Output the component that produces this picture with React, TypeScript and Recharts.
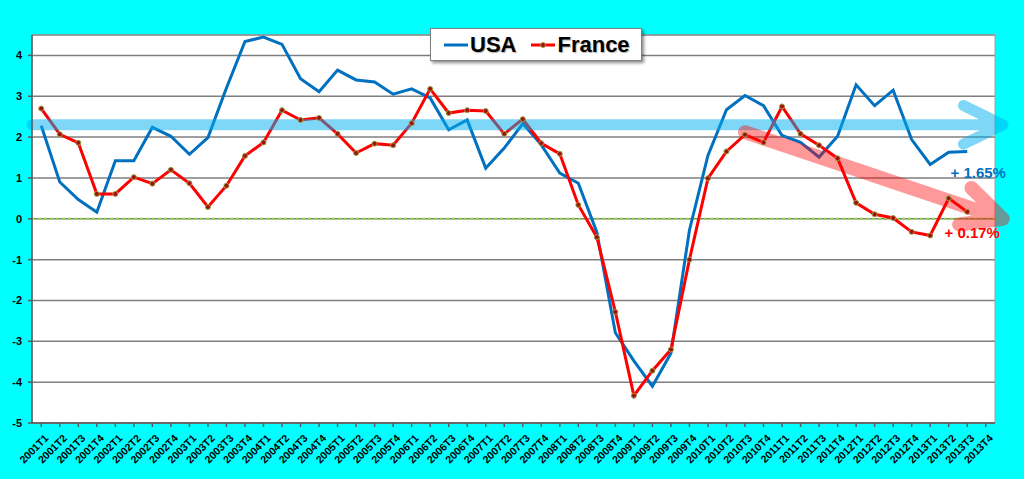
import React from "react";
import {
  LineChart,
  Line,
  XAxis,
  YAxis,
  CartesianGrid,
  ReferenceLine,
  ReferenceArea,
  ReferenceDot,
} from "recharts";

const quarters = [
  "2001T1", "2001T2", "2001T3", "2001T4",
  "2002T1", "2002T2", "2002T3", "2002T4",
  "2003T1", "2003T2", "2003T3", "2003T4",
  "2004T1", "2004T2", "2004T3", "2004T4",
  "2005T1", "2005T2", "2005T3", "2005T4",
  "2006T1", "2006T2", "2006T3", "2006T4",
  "2007T1", "2007T2", "2007T3", "2007T4",
  "2008T1", "2008T2", "2008T3", "2008T4",
  "2009T1", "2009T2", "2009T3", "2009T4",
  "2010T1", "2010T2", "2010T3", "2010T4",
  "2011T1", "2011T2", "2011T3", "2011T4",
  "2012T1", "2012T2", "2012T3", "2012T4",
  "2013T1", "2013T2", "2013T3", "2013T4",
];

const usa = [
  2.28, 0.9, 0.47, 0.16,
  1.42, 1.42, 2.24, 2.02,
  1.58, 1.99, 3.2, 4.34,
  4.45, 4.27, 3.43, 3.11,
  3.64, 3.4, 3.35, 3.05,
  3.18, 2.96, 2.18, 2.42,
  1.24, 1.73, 2.33, 1.81,
  1.12, 0.87, -0.33, -2.79,
  -3.48, -4.1, -3.29, -0.28,
  1.55, 2.67, 3.02, 2.77,
  2.04, 1.87, 1.51, 2.02,
  3.28, 2.77, 3.15, 1.94,
  1.33, 1.63, 1.65, null,
];

const france = [
  2.7, 2.07, 1.86, 0.61,
  0.61, 1.02, 0.86, 1.2,
  0.87, 0.29, 0.81, 1.54,
  1.87, 2.66, 2.42, 2.47,
  2.08, 1.61, 1.84, 1.8,
  2.34, 3.18, 2.59, 2.66,
  2.64, 2.08, 2.44, 1.85,
  1.59, 0.34, -0.45, -2.28,
  -4.33, -3.72, -3.2, -1.0,
  0.99, 1.65, 2.06, 1.87,
  2.75, 2.08, 1.8, 1.48,
  0.39, 0.11, 0.02, -0.32,
  -0.41, 0.5, 0.17, null,
];

const yTicks = [-5, -4, -3, -2, -1, 0, 1, 2, 3, 4];

const data = quarters.map((q, i) => ({ q, usa: usa[i], france: france[i] }));

const FONT = "'Liberation Sans', Arial, Helvetica, sans-serif";
const BLUE = "#0070c0";
const RED = "#ff0000";

function QuarterTick({ x, y, payload }: any) {
  return (
    <g transform={`translate(${x + 5},${y + 7})`}>
      <text
        transform="rotate(-45)"
        textAnchor="end"
        dy={4}
        fontSize={10.5}
        fontWeight="bold"
        fontFamily={FONT}
        fill="#000"
      >
        {payload.value}
      </text>
    </g>
  );
}

// thick translucent arrow drawn on a reference line, tip pushed past the end point
function arrow(color: string, width: number, extend: number, opacity: number) {
  return (props: any) => {
    const { x1, y1, x2, y2 } = props;
    const len = Math.hypot(x2 - x1, y2 - y1) || 1;
    const ux = (x2 - x1) / len;
    const uy = (y2 - y1) / len;
    const tx = x2 + ux * extend;
    const ty = y2 + uy * extend;
    const barb = 44;
    const a = (26 * Math.PI) / 180;
    const bx = -ux;
    const by = -uy;
    const b1x = tx + barb * (bx * Math.cos(a) - by * Math.sin(a));
    const b1y = ty + barb * (bx * Math.sin(a) + by * Math.cos(a));
    const b2x = tx + barb * (bx * Math.cos(-a) - by * Math.sin(-a));
    const b2y = ty + barb * (bx * Math.sin(-a) + by * Math.cos(-a));
    return (
      <g opacity={opacity}>
        <path
          d={`M${x1},${y1} L${tx},${ty} M${b1x},${b1y} L${tx},${ty} L${b2x},${b2y}`}
          stroke={color}
          strokeWidth={width}
          strokeLinecap="round"
          strokeLinejoin="round"
          fill="none"
        />
      </g>
    );
  };
}

function note(text: string, color: string, dx: number) {
  return (props: any) => (
    <text
      x={props.cx + dx}
      y={props.cy}
      textAnchor="middle"
      dominantBaseline="central"
      fontSize={15}
      fontWeight="bold"
      fontFamily={FONT}
      fill={color}
    >
      {text}
    </text>
  );
}

function FranceDot(props: any) {
  const { cx, cy } = props;
  if (cx == null || cy == null) return null;
  return <circle cx={cx} cy={cy} r={2.5} fill="#a01010" stroke="#9aa040" strokeWidth={1} />;
}

function LegendBox() {
  return (
    <div
      style={{
        position: "absolute",
        left: 430,
        top: 28,
        width: 210,
        height: 31,
        background: "#fff",
        border: "1px solid #808080",
        boxShadow: "2px 2px 3px rgba(0,0,0,0.45)",
        display: "flex",
        alignItems: "center",
        fontFamily: FONT,
        fontWeight: "bold",
        fontSize: 22,
        color: "#000",
        textShadow: "1px 1px 1px rgba(0,0,0,0.3)",
      }}
    >
      <svg width={26} height={10} style={{ marginLeft: 12 }}>
        <line x1={1} y1={5} x2={25} y2={5} stroke={BLUE} strokeWidth={3} />
      </svg>
      <span style={{ marginLeft: 1 }}>USA</span>
      <svg width={26} height={10} style={{ marginLeft: 14 }}>
        <line x1={1} y1={5} x2={25} y2={5} stroke={RED} strokeWidth={3} />
        <circle cx={13} cy={5} r={2.5} fill="#a01010" stroke="#9aa040" strokeWidth={1} />
      </svg>
      <span style={{ marginLeft: 1 }}>France</span>
    </div>
  );
}

export default function App() {
  return (
    <div
      style={{
        position: "absolute",
        left: 0,
        top: 0,
        width: 1024,
        height: 479,
        background: "#00ffff",
      }}
    >
      <LineChart
        width={1024}
        height={479}
        data={data}
        margin={{ top: 35, right: 29, bottom: 0, left: 0 }}
      >
        <CartesianGrid
          vertical={false}
          fill="#ffffff"
          stroke="#7f7f7f"
          strokeWidth={1.5}
        />
        <ReferenceArea y1={-5} y2={4.5} fill="none" stroke="#a0a0a0" strokeWidth={1} />
        <XAxis
          dataKey="q"
          scale="band"
          interval={0}
          height={56}
          stroke="#595959"
          strokeWidth={1.5}
          tickSize={4}
          tick={<QuarterTick />}
        />
        <YAxis
          width={32}
          domain={[-5, 4.5]}
          ticks={yTicks}
          allowDataOverflow
          stroke="#595959"
          strokeWidth={1.5}
          tickSize={4}
          tickMargin={6}
          tick={{ fill: "#000", fontSize: 11, fontWeight: "bold", fontFamily: FONT }}
        />
        <ReferenceLine y={0} stroke="#92d050" strokeWidth={2} strokeDasharray="3 3" />
        <Line
          dataKey="usa"
          stroke={BLUE}
          strokeWidth={3}
          dot={false}
          activeDot={false}
          isAnimationActive={false}
        />
        <Line
          dataKey="france"
          stroke={RED}
          strokeWidth={3}
          dot={<FranceDot />}
          activeDot={false}
          isAnimationActive={false}
        />
        <ReferenceLine
          y={2.3}
          ifOverflow="visible"
          zIndex={450}
          shape={arrow("#00b0f0", 11, 8, 0.5)}
        />
        <ReferenceLine
          segment={[
            { x: "2010T3", y: 2.12 },
            { x: "2013T4", y: 0.14 },
          ]}
          ifOverflow="visible"
          zIndex={450}
          shape={arrow("#ff0000", 14, 18, 0.4)}
        />
        <ReferenceDot
          x="2013T3"
          y={1.13}
          ifOverflow="visible"
          zIndex={460}
          shape={note("+ 1.65%", BLUE, 11)}
        />
        <ReferenceDot
          x="2013T3"
          y={-0.34}
          ifOverflow="visible"
          zIndex={460}
          shape={note("+ 0.17%", RED, 5)}
        />
      </LineChart>
      <LegendBox />
    </div>
  );
}
